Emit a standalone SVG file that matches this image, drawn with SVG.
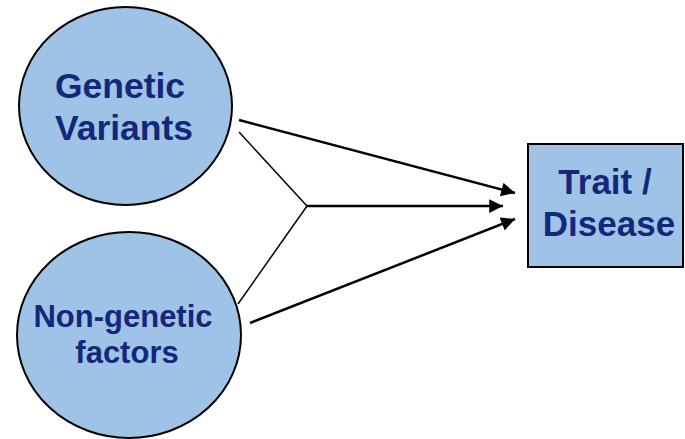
<svg xmlns="http://www.w3.org/2000/svg" width="685" height="439" viewBox="0 0 685 439">
<defs>
<style>
.node{fill:#9fc3e7;stroke:#000;stroke-width:2}
.lbl{font-family:"Liberation Sans",Arial,sans-serif;font-weight:bold;fill:#13287a;text-anchor:middle}
.con{stroke:#000;stroke-width:2.5;fill:none}
.thin{stroke:#000;stroke-width:1.5;fill:none}
</style>
<marker id="ah" viewBox="0 0 10 10" refX="10" refY="5" markerWidth="6" markerHeight="5.5" markerUnits="strokeWidth" orient="auto">
<path d="M0,0 L10,5 L0,10 z" fill="#000"/>
</marker>
</defs>
<g id="genetic-variants">
<ellipse class="node" cx="125.5" cy="106" rx="106.5" ry="99"/>
<text class="lbl" font-size="35.5" x="120" y="98">Genetic</text>
<text class="lbl" font-size="35.5" x="124" y="140">Variants</text>
</g>
<g id="non-genetic-factors">
<ellipse class="node" cx="129" cy="335" rx="112" ry="103"/>
<text class="lbl" font-size="31" x="123" y="327">Non-genetic</text>
<text class="lbl" font-size="31" x="127" y="363">factors</text>
</g>
<g id="trait-disease">
<rect class="node" x="528" y="144" width="155" height="123"/>
<text class="lbl" font-size="35" x="605" y="194">Trait /</text>
<text class="lbl" font-size="35" x="609" y="236">Disease</text>
</g>
<g id="connectors">
<line class="con" x1="239" y1="120" x2="515" y2="193" marker-end="url(#ah)"/>
<polyline class="thin" points="239,132 307,206 238,304"/>
<line class="con" x1="307" y1="206" x2="503" y2="206" marker-end="url(#ah)"/>
<line class="con" x1="250" y1="323" x2="515" y2="219" marker-end="url(#ah)"/>
</g>
</svg>
